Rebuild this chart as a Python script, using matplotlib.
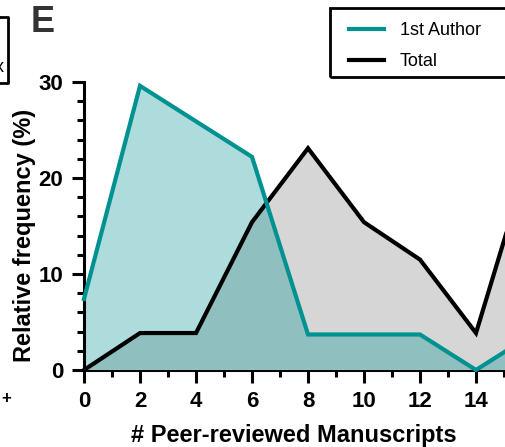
import matplotlib
matplotlib.use('Agg')
import matplotlib.pyplot as plt
from matplotlib.ticker import MultipleLocator
from matplotlib.lines import Line2D
from matplotlib.patches import Rectangle

plt.rcParams['font.family'] = ['Liberation Sans', 'DejaVu Sans']

manuscripts = [0, 2, 4, 6, 8, 10, 12, 14, 16]
first_author = [7.4, 29.6, 25.9, 22.2, 3.7, 3.7, 3.7, 0.0, 3.7]
total = [0.0, 3.85, 3.85, 15.4, 23.1, 15.4, 11.5, 3.85, 23.1]
xtick_vals = [0, 2, 4, 6, 8, 10, 12, 14]
ytick_vals = [0, 10, 20, 30]

teal = '#009191'
teal_fill = '#aedcdc'
gray_fill = '#d6d6d6'
overlap_fill = '#90bfbf'

W, H = 506, 447
fig = plt.figure(figsize=(W / 100, H / 100), dpi=100)

# axes runs past the right edge, like the cropped original
x0, x1 = 84, 84 + 16 * 28
y0, y1 = 370, 82
ax = fig.add_axes([x0 / W, 1 - y0 / H, (x1 - x0) / W, (y0 - y1) / H])

f1 = ax.fill_between(manuscripts, first_author, color=teal_fill, lw=0, zorder=1)
ax.fill_between(manuscripts, total, color=gray_fill, lw=0, zorder=2)
ov = ax.fill_between(manuscripts, total, color=overlap_fill, lw=0, zorder=3)
ov.set_clip_path(f1.get_paths()[0], ax.transData)

ax.plot(manuscripts, total, color='black', lw=3, zorder=4, clip_on=False,
        solid_joinstyle='miter')
ax.plot(manuscripts, first_author, color=teal, lw=3, zorder=5, clip_on=False,
        solid_joinstyle='miter')

ax.set_xlim(0, 16)
ax.set_ylim(0, 30)
ax.set_xticks(xtick_vals)
ax.set_yticks(ytick_vals)
ax.xaxis.set_minor_locator(MultipleLocator(1))
ax.yaxis.set_minor_locator(MultipleLocator(2))

for s in ['top', 'right']:
    ax.spines[s].set_visible(False)
for s in ['left', 'bottom']:
    ax.spines[s].set_linewidth(2.2)
ax.tick_params(which='major', length=9, width=2.2, labelsize=16, pad=6)
ax.tick_params(which='minor', length=5, width=2.2)
for lab in ax.get_xticklabels() + ax.get_yticklabels():
    lab.set_fontweight('bold')

ax.set_xlabel('# Peer-reviewed Manuscripts', fontsize=17, fontweight='bold')
ax.set_ylabel('Relative frequency (%)', fontsize=17, fontweight='bold')
ax.xaxis.set_label_coords((294 - x0) / (x1 - x0), -(442 - y0) / (y0 - y1))
ax.xaxis.label.set_va('baseline')
ax.yaxis.set_label_coords(-(x0 - 24) / (x1 - x0), (y0 - 235) / (y0 - y1))
ax.yaxis.label.set_va('center')

# legend (box cut by the right edge)
fig.patches.append(Rectangle((330 / W, 1 - 77 / H), 200 / W, 69 / H,
                             transform=fig.transFigure, fill=False,
                             ec='black', lw=2, zorder=10))
handles = [Line2D([], [], color=teal, lw=3), Line2D([], [], color='black', lw=3)]
fig.legend(handles, ['1st Author', 'Total'], loc='upper left',
           bbox_to_anchor=(335 / W, 1 - 8 / H), frameon=False, fontsize=13,
           handlelength=1.9, handletextpad=0.9, labelspacing=0.75,
           borderpad=0.3)

# panel letter and pieces of the neighbouring panel
fig.text(31 / W, 1 - 32 / H, 'E', fontsize=26, fontweight='bold',
         color='#333333', ha='left', va='baseline')
fig.add_artist(Line2D([0, 8 / W, 8 / W, 0], [1 - 17 / H, 1 - 17 / H, 1 - 83 / H, 1 - 83 / H],
                      transform=fig.transFigure, color='black', lw=2))
fig.text(4 / W, 1 - 72 / H, 'x', fontsize=13, ha='right', va='baseline')
fig.text(1 / W, 1 - 398 / H, '+', fontsize=12, fontweight='bold', ha='left', va='center')

fig.savefig('out.png', dpi=100)
